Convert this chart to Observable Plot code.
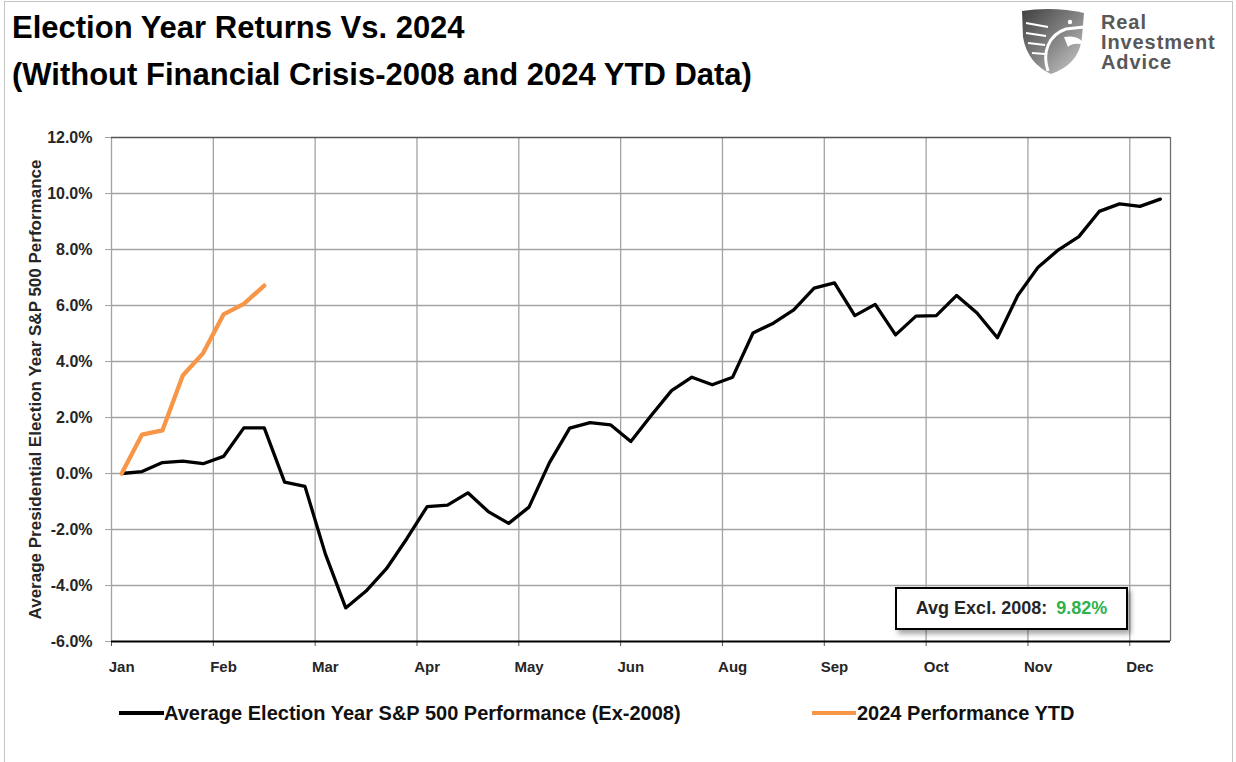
<!DOCTYPE html>
<html>
<head>
<meta charset="utf-8">
<script src="https://cdn.jsdelivr.net/npm/d3@7"></script>
<script src="https://cdn.jsdelivr.net/npm/@observablehq/plot@0.6"></script>
<style>
  html, body { margin: 0; padding: 0; background: #fff; }
  #wrap { position: relative; width: 1236px; height: 762px; overflow: hidden; font-family: 'Liberation Sans', Arial, sans-serif; }
  #outer { position: absolute; left: 4px; top: 1px; width: 1229px; height: 800px; border: 1px solid #c4c4c4; box-sizing: border-box; }
  .title { position: absolute; left: 12px; font-weight: bold; font-size: 31px; color: #000; white-space: nowrap; line-height: 1; }
  .logoLine { position: absolute; left: 1101px; font-weight: bold; font-size: 20px; line-height: 20px; height: 20px; color: #585858; letter-spacing: 0.9px; white-space: nowrap; }
  #chart { position: absolute; left: 0; top: 100px; }
  .leg { position: absolute; top: 702px; font-weight: bold; font-size: 20px; color: #111; white-space: nowrap; line-height: 22px; }
  .legSw { position: absolute; height: 4px; }
  #note { position: absolute; left: 895px; top: 587px; width: 233px; height: 43px; border: 2px solid #000; background: #fff; box-sizing: border-box;
          box-shadow: 3px 4px 5px rgba(0,0,0,0.35); font-weight: bold; font-size: 18px; color: #262626; display: flex; align-items: center; justify-content: center; white-space: nowrap; }
  #note .val { color: #2fb24c; margin-left: 9px; }
</style>
</head>
<body>
<div id="wrap">
  <div id="outer"></div>
  <div class="title" style="top:12px">Election Year Returns Vs. 2024</div>
  <div class="title" style="top:59px">(Without Financial Crisis-2008 and 2024 YTD Data)</div>
  <svg style="position:absolute;left:1018px;top:7px" width="70" height="68" viewBox="0 0 70 68">
    <defs>
      <linearGradient id="lg" x1="0" y1="0" x2="1" y2="1">
        <stop offset="0" stop-color="#3f3f3f"/>
        <stop offset="0.55" stop-color="#8a8a8a"/>
        <stop offset="1" stop-color="#d0d0d0"/>
      </linearGradient>
    </defs>
    <path d="M4,4 C22,1 46,1 66,6 L64,30 C62,50 50,61 33,67 C18,60 8,48 5,30 Z" fill="url(#lg)"/>
    <path d="M8,16 L30,20 M8,26 L28,29 M10,36 L27,38 M14,46 L27,47" stroke="#fff" stroke-width="2.2" fill="none"/>
    <path d="M30,64 C24,46 30,28 48,22 L66,20" stroke="#fff" stroke-width="3" fill="none"/>
    <path d="M46,30 C58,28 64,32 66,38 C60,36 54,36 50,40 Z" fill="#fff"/>
    <circle cx="52" cy="15" r="2.2" fill="#fff"/>
  </svg>
  <div class="logoLine" style="top:12px">Real</div>
  <div class="logoLine" style="top:32px">Investment</div>
  <div class="logoLine" style="top:52px">Advice</div>
  <div id="chart"></div>
  <div class="legSw" style="left:119px;width:45px;top:711px;background:#000"></div>
  <div class="leg" id="leg1" style="left:164px"></div>
  <div class="legSw" style="left:812px;width:44px;top:711px;background:#f79646"></div>
  <div class="leg" id="leg2" style="left:857px"></div>
  <div id="note"><span id="noteLabel"></span><span class="val" id="noteVal"></span></div>
</div>
<script>
// ---- Data ----
const monthLabels = ["Jan","Feb","Mar","Apr","May","Jun","Aug","Sep","Oct","Nov","Dec"];
const monthTickIndex = [0,5,10,15,20,25,30,35,40,45,50];
const gridIndex = [4.5,9.5,14.5,19.5,24.5,29.5,34.5,39.5,44.5,49.5];
const yTicks = [-6,-4,-2,0,2,4,6,8,10,12];
// Average election-year S&P 500 performance (ex-2008), % — weekly
const avgReturns = [0.0,0.07,0.39,0.44,0.35,0.61,1.63,1.63,-0.31,-0.46,
  -2.87,-4.8,-4.2,-3.4,-2.33,-1.18,-1.13,-0.69,-1.36,-1.78,
  -1.2,0.38,1.62,1.82,1.74,1.14,2.07,2.96,3.44,3.17,
  3.44,5.02,5.37,5.84,6.62,6.81,5.64,6.04,4.95,5.62,
  5.64,6.36,5.73,4.85,6.36,7.37,7.99,8.46,9.36,9.63,
  9.54,9.8];
// 2024 performance YTD, %
const ytdReturns = [0.0,1.39,1.54,3.5,4.3,5.68,6.06,6.71];
const series1Name = "Average Election Year S&P 500 Performance (Ex-2008)";
const series2Name = "2024 Performance YTD";
const yLabel = "Average Presidential Election Year S&P 500 Performance";
const noteLabel = "Avg Excl. 2008:";
const noteValue = "9.82%";

const avgData = avgReturns.map((v, i) => ({i, v}));
const ytdData = ytdReturns.map((v, i) => ({i, v}));

document.getElementById("leg1").textContent = series1Name;
document.getElementById("leg2").textContent = series2Name;
document.getElementById("noteLabel").textContent = noteLabel;
document.getElementById("noteVal").textContent = noteValue;

const gridColor = "#a3a3a3";
const chart = Plot.plot({
  width: 1236,
  height: 600,
  marginLeft: 111,
  marginRight: 66,
  marginTop: 37,
  marginBottom: 59,
  style: {fontFamily: "'Liberation Sans', Arial, sans-serif", background: "transparent"},
  x: {domain: [-0.5, avgReturns.length - 0.5], axis: null},
  y: {domain: [-6, 12], axis: null},
  marks: [
    Plot.ruleX(gridIndex, {stroke: gridColor, strokeWidth: 1.3}),
    Plot.ruleY(yTicks.filter(d => d > -6 && d < 12), {stroke: gridColor, strokeWidth: 1.3}),
    Plot.ruleX([-0.5], {stroke: gridColor, strokeWidth: 1.3}),
    Plot.ruleX([avgReturns.length - 0.5], {stroke: "#6e6e6e", strokeWidth: 1.3}),
    Plot.ruleY([12], {stroke: "#555", strokeWidth: 1.5}),
    Plot.axisY({ticks: yTicks, tickFormat: d => d.toFixed(1) + "%", tickSize: 6, tickPadding: 13,
      fontSize: 16, fontWeight: "bold", fill: "#262626", stroke: gridColor, label: null}),
    Plot.axisX({ticks: monthTickIndex, tickFormat: d => monthLabels[d / 5], tickSize: 0, tickPadding: 20,
      fontSize: 15, fontWeight: "bold", fill: "#262626", label: null}),
    Plot.axisX({ticks: [-0.5, ...gridIndex], tickFormat: () => "", tickSize: 5, stroke: "#555", label: null}),
    Plot.ruleY([-6], {stroke: "#000", strokeWidth: 2}),
    Plot.line(avgData, {x: "i", y: "v", stroke: "#000", strokeWidth: 3.3, strokeLinejoin: "round"}),
    Plot.line(ytdData, {x: "i", y: "v", stroke: "#f79646", strokeWidth: 4.3, strokeLinejoin: "round", strokeLinecap: "round"}),
    Plot.text([yLabel], {frameAnchor: "left", textAnchor: "middle", rotate: -90, dx: -76, fontSize: 17, fontWeight: "bold", fill: "#262626"})
  ]
});
document.getElementById("chart").appendChild(chart);
</script>
</body>
</html>
